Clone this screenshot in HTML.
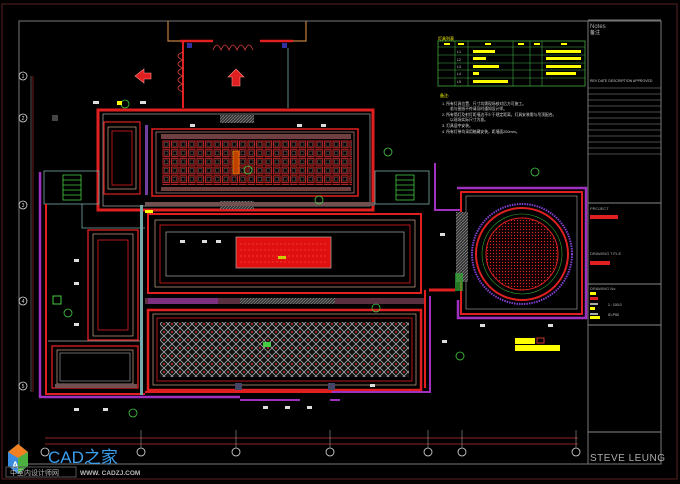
<!DOCTYPE html><html><head><meta charset="utf-8"><style>html,body{margin:0;padding:0;background:#000;}svg{display:block}text{font-family:"Liberation Sans","Noto Sans CJK SC",sans-serif}</style></head><body>
<svg width="680" height="484" viewBox="0 0 680 484" xmlns="http://www.w3.org/2000/svg">
<defs>
<pattern id="grid" x="162" y="140" width="8.5" height="8.7" patternUnits="userSpaceOnUse"><rect width="8.5" height="8.7" fill="#200000"/><rect x="1" y="1" width="6.5" height="6.7" fill="none" stroke="#d03030" stroke-width="0.8"/><rect x="2.5" y="2.5" width="3.5" height="3.7" fill="#000" stroke="#888" stroke-width="0.4"/></pattern>
<pattern id="lat" x="0" y="0" width="8" height="8" patternUnits="userSpaceOnUse"><rect width="8" height="8" fill="#111"/><path d="M0 4L4 0L8 4L4 8Z" fill="none" stroke="#aaa" stroke-width="0.8"/><circle cx="4" cy="4" r="1" fill="#c03030"/></pattern>
<pattern id="dots" width="3" height="3" patternUnits="userSpaceOnUse"><rect width="3" height="3" fill="#100"/><circle cx="1.5" cy="1.5" r="0.6" fill="#e02020"/></pattern>
<pattern id="hatch" width="3" height="3" patternUnits="userSpaceOnUse"><rect width="3" height="3" fill="#333"/><path d="M0 3L3 0" stroke="#999" stroke-width="0.6"/></pattern>
</defs>
<rect width="680" height="484" fill="#000"/>
<rect x="2" y="4" width="675" height="475" fill="none" stroke="#5a2020" stroke-width="1"/>
<rect x="19" y="21" width="569" height="443" fill="none" stroke="#777" stroke-width="1"/>
<rect x="588" y="21" width="73" height="443" fill="none" stroke="#777"/>
<line x1="588" y1="20" x2="661" y2="20" stroke="#777"/>
<text x="590" y="28" fill="#aaa" font-size="6">Notes</text><text x="590" y="34" fill="#ccc" font-size="5">备注</text>
<text x="590" y="82" fill="#ccc" font-size="3.5">REV  DATE      DESCRIPTION  APPROVED</text>
<g stroke="#999" stroke-width="0.6"><line x1="588" y1="88" x2="661" y2="88"/><line x1="588" y1="94" x2="661" y2="94"/><line x1="588" y1="100" x2="661" y2="100"/><line x1="588" y1="106" x2="661" y2="106"/><line x1="588" y1="112" x2="661" y2="112"/><line x1="588" y1="118" x2="661" y2="118"/><line x1="588" y1="124" x2="661" y2="124"/><line x1="588" y1="130" x2="661" y2="130"/><line x1="588" y1="136" x2="661" y2="136"/><line x1="588" y1="142" x2="661" y2="142"/><line x1="588" y1="148" x2="661" y2="148"/><line x1="588" y1="154" x2="661" y2="154"/></g>
<line x1="588" y1="203" x2="661" y2="203" stroke="#888"/>
<text x="590" y="210" fill="#aaa" font-size="4">PROJECT</text><rect x="590" y="215" width="28" height="4" fill="#e02020"/>
<text x="590" y="255" fill="#aaa" font-size="4">DRAWING TITLE</text><rect x="590" y="261" width="20" height="4" fill="#e02020"/>
<line x1="588" y1="284" x2="661" y2="284" stroke="#888"/>
<text x="590" y="290" fill="#aaa" font-size="4">DRAWING No.</text><rect x="590" y="292" width="6" height="3" fill="#ff0"/><rect x="590" y="297" width="8" height="3" fill="#e02020"/>
<rect x="590" y="303" width="8" height="2" fill="#aaa"/><text x="608" y="306" fill="#ccc" font-size="3.5">1 : 100.0</text><rect x="590" y="307" width="5" height="3" fill="#ff0"/>
<rect x="590" y="313" width="8" height="2" fill="#aaa"/><rect x="590" y="316" width="10" height="3" fill="#ff0"/><text x="608" y="316" fill="#ccc" font-size="3.5">ID-P50</text>
<line x1="588" y1="325" x2="661" y2="325" stroke="#888"/>
<line x1="588" y1="432" x2="661" y2="432" stroke="#888"/>
<text x="590" y="461" fill="#aaa" font-size="10" letter-spacing="0.5">STEVE LEUNG</text>

<line x1="31" y1="76" x2="31" y2="392" stroke="#888" stroke-width="0.6"/>
<line x1="33" y1="76" x2="33" y2="392" stroke="#c03030" stroke-width="0.6"/>
<g fill="none" stroke="#ddd" stroke-width="0.8"><circle cx="23" cy="76" r="4"/><circle cx="23" cy="118" r="4"/><circle cx="23" cy="205" r="4"/><circle cx="23" cy="301" r="4"/><circle cx="23" cy="386" r="4"/></g>
<g fill="#ddd" font-size="5" text-anchor="middle"><text x="23" y="78">1</text><text x="23" y="120">2</text><text x="23" y="207">3</text><text x="23" y="303">4</text><text x="23" y="388">5</text></g>
<line x1="45" y1="438" x2="578" y2="438" stroke="#c03030" stroke-width="0.7"/>
<line x1="45" y1="444" x2="578" y2="444" stroke="#c03030" stroke-width="0.7"/>
<g fill="none" stroke="#ddd" stroke-width="0.8"><circle cx="45" cy="452" r="4"/><circle cx="141" cy="452" r="4"/><circle cx="236" cy="452" r="4"/><circle cx="330" cy="452" r="4"/><circle cx="428" cy="452" r="4"/><circle cx="462" cy="452" r="4"/><circle cx="576" cy="452" r="4"/></g>
<g stroke="#bbb" stroke-width="0.5"><line x1="141" y1="430" x2="141" y2="448"/><line x1="236" y1="430" x2="236" y2="448"/><line x1="330" y1="430" x2="330" y2="448"/><line x1="428" y1="430" x2="428" y2="448"/><line x1="462" y1="430" x2="462" y2="448"/><line x1="576" y1="430" x2="576" y2="448"/></g>

<path d="M168 21V41H180M293 41H306V21" fill="none" stroke="#c08040" stroke-width="1.2"/>
<path d="M180 41H213M260 41H293" stroke="#e02020" stroke-width="2.5"/>
<path d="M213 50q4-10 8 0q4-10 8 0q4-10 8 0q4-10 8 0q4-10 8 0" fill="none" stroke="#e04040" stroke-width="0.8"/>
<path d="M183 41V108" stroke="#e02020" stroke-width="2"/>
<path d="M183 52q-10 4 0 8q-10 4 0 8q-10 4 0 8q-10 4 0 8q-10 4 0 8" fill="none" stroke="#e04040" stroke-width="0.8"/>
<rect x="187" y="43" width="5" height="5" fill="#3030a0"/><rect x="282" y="43" width="5" height="5" fill="#3030a0"/>
<line x1="288" y1="48" x2="288" y2="108" stroke="#7aa" stroke-width="0.8"/>
<path d="M135 76l9-7v4h7v6h-7v4z" fill="#e02020" stroke="#f88" stroke-width="0.6"/>
<path d="M236 69l8 8h-4v9h-8v-9h-4z" fill="#e02020" stroke="#f88" stroke-width="0.6"/>
<rect x="52" y="115" width="6" height="6" fill="#444"/>

<rect x="98" y="110" width="275" height="100" fill="none" stroke="#e02020" stroke-width="3"/>
<rect x="103" y="114" width="267" height="92" fill="none" stroke="#aaa" stroke-width="0.7"/>
<rect x="220" y="115" width="34" height="8" fill="url(#hatch)"/><rect x="220" y="201" width="34" height="8" fill="url(#hatch)"/>
<rect x="152" y="129" width="206" height="67" fill="none" stroke="#e02020" stroke-width="1.5"/>
<rect x="156" y="132" width="198" height="61" fill="none" stroke="#f0a0a0" stroke-width="0.6"/>
<rect x="161" y="134" width="190" height="5" fill="#704040"/><rect x="161" y="187" width="190" height="4" fill="#704040"/>
<rect x="162" y="140" width="190" height="45" fill="url(#grid)"/>
<rect x="233" y="151" width="6" height="23" fill="#c04000" stroke="#fa0" stroke-width="0.5"/>
<rect x="145" y="202" width="230" height="4" fill="#705050"/>
<rect x="104" y="122" width="36" height="72" fill="none" stroke="#e02020" stroke-width="1.2"/>
<rect x="108" y="127" width="28" height="62" fill="none" stroke="#f0c0a0" stroke-width="0.6"/>
<rect x="112" y="131" width="20" height="54" fill="none" stroke="#e02020" stroke-width="0.8"/>
<rect x="145" y="125" width="3" height="70" fill="#7040a0"/>
<rect x="44" y="171" width="55" height="33" fill="none" stroke="#7aa" stroke-width="0.8"/>
<rect x="63" y="175" width="18" height="25" fill="none" stroke="#4c4" stroke-width="0.8"/>
<path d="M63 180h18M63 185h18M63 190h18M63 195h18" stroke="#4c4" stroke-width="0.8"/>
<rect x="375" y="171" width="54" height="33" fill="none" stroke="#7aa" stroke-width="0.8"/>
<rect x="396" y="175" width="18" height="25" fill="none" stroke="#4c4" stroke-width="0.8"/>
<path d="M396 180h18M396 185h18M396 190h18M396 195h18" stroke="#4c4" stroke-width="0.8"/>
<path d="M435 163V210H460" fill="none" stroke="#a030c0" stroke-width="2"/>
<path d="M40 172V397H240" fill="none" stroke="#a030c0" stroke-width="2.5"/>
<path d="M46 204V394H145" fill="none" stroke="#e02020" stroke-width="2"/>
<path d="M82 204V228H145" fill="none" stroke="#7aa" stroke-width="0.8"/>
<rect x="88" y="230" width="50" height="110" fill="none" stroke="#e02020" stroke-width="1.3"/>
<rect x="93" y="234" width="40" height="102" fill="none" stroke="#f0c0a0" stroke-width="0.6"/>
<rect x="98" y="240" width="30" height="90" fill="none" stroke="#e02020" stroke-width="0.8"/>
<rect x="52" y="346" width="86" height="42" fill="none" stroke="#e02020" stroke-width="1.3"/>
<rect x="57" y="350" width="76" height="34" fill="none" stroke="#f0c0a0" stroke-width="0.6"/>
<rect x="60" y="353" width="70" height="28" fill="none" stroke="#aaa" stroke-width="0.6"/>
<line x1="48" y1="341" x2="140" y2="341" stroke="#aaa" stroke-width="0.8"/>
<rect x="55" y="384" width="82" height="4" fill="#705050"/>
<rect x="140" y="205" width="3" height="190" fill="#7aa"/>
<rect x="53" y="296" width="8" height="8" fill="none" stroke="#4c4"/>
<rect x="148" y="214" width="273" height="79" fill="none" stroke="#e02020" stroke-width="2"/>
<rect x="155" y="220" width="260" height="67" fill="none" stroke="#f0c0a0" stroke-width="0.6"/>
<rect x="160" y="225" width="250" height="58" fill="none" stroke="#e02020" stroke-width="0.8"/>
<rect x="166" y="232" width="238" height="44" fill="none" stroke="#aaa" stroke-width="0.7"/>
<rect x="236" y="237" width="95" height="31" fill="#e01010" stroke="#aaa" stroke-width="0.7"/>
<path d="M240 244h87M240 250h87M240 256h87M240 262h87" stroke="#ff6060" stroke-width="0.5" stroke-dasharray="2 2"/>
<rect x="278" y="256" width="8" height="3" fill="#cc0" />
<rect x="145" y="298" width="280" height="6" fill="#5a3040"/>
<rect x="240" y="298" width="95" height="6" fill="url(#hatch)"/>
<rect x="148" y="298" width="70" height="6" fill="#a030c0" opacity="0.5"/>
<rect x="148" y="310" width="273" height="80" fill="none" stroke="#e02020" stroke-width="2.5"/>
<rect x="153" y="314" width="263" height="71" fill="none" stroke="#f0c0a0" stroke-width="0.6"/>
<rect x="157" y="318" width="255" height="63" fill="none" stroke="#e02020" stroke-width="0.8"/>
<rect x="160" y="322" width="249" height="55" fill="url(#lat)"/>
<rect x="263" y="342" width="8" height="5" fill="#4c4"/>
<path d="M145 392H420" stroke="#e02020" stroke-width="2"/>
<path d="M240 400H300M330 400H340" stroke="#a030c0" stroke-width="2"/>
<path d="M430 296V392H332" fill="none" stroke="#a030c0" stroke-width="2"/>
<path d="M425 290V388" stroke="#e02020" stroke-width="2"/>
<rect x="235" y="383" width="7" height="7" fill="#446"/><rect x="328" y="383" width="7" height="7" fill="#446"/>
<path d="M457 188H586V318H458V300" fill="none" stroke="#a030c0" stroke-width="2.5"/>
<rect x="461" y="192" width="121" height="122" fill="none" stroke="#e02020" stroke-width="2"/>
<rect x="466" y="196" width="111" height="113" fill="none" stroke="#aaa" stroke-width="0.6"/>
<circle cx="522" cy="254" r="50" fill="none" stroke="#8040d0" stroke-width="2" stroke-dasharray="1.5 1"/>
<circle cx="522" cy="254" r="46" fill="none" stroke="#e02020" stroke-width="2"/>
<circle cx="522" cy="254" r="40" fill="none" stroke="#3a3" stroke-width="0.6"/>
<circle cx="522" cy="254" r="36" fill="url(#dots)" stroke="#e02020" stroke-width="1"/>
<rect x="456" y="212" width="12" height="70" fill="url(#hatch)"/>
<rect x="455" y="273" width="8" height="18" fill="#3a3" opacity="0.7"/>
<path d="M429 290H455" stroke="#e02020" stroke-width="3"/>
<text x="438" y="40" fill="#ff0" font-size="4">灯具列表</text>
<rect x="438" y="41" width="147" height="45" fill="none" stroke="#4a4" stroke-width="0.8"/>
<g stroke="#4a4" stroke-width="0.6"><line x1="438" y1="47" x2="585" y2="47"/><line x1="438" y1="55" x2="585" y2="55"/><line x1="438" y1="63" x2="585" y2="63"/><line x1="438" y1="70" x2="585" y2="70"/><line x1="438" y1="78" x2="585" y2="78"/><line x1="455" y1="41" x2="455" y2="86"/><line x1="468" y1="41" x2="468" y2="86"/><line x1="513" y1="41" x2="513" y2="86"/><line x1="530" y1="41" x2="530" y2="86"/><line x1="542" y1="41" x2="542" y2="86"/></g>
<g fill="#ff0"><rect x="444" y="43" width="6" height="2"/><rect x="458" y="43" width="6" height="2"/><rect x="485" y="43" width="6" height="2"/><rect x="518" y="43" width="6" height="2"/><rect x="534" y="43" width="6" height="2"/><rect x="561" y="43" width="6" height="2"/>
<rect x="473" y="50" width="22" height="3"/><rect x="546" y="50" width="35" height="3"/><rect x="473" y="57" width="13" height="3"/><rect x="546" y="57" width="35" height="3"/><rect x="473" y="65" width="26" height="3"/><rect x="546" y="65" width="35" height="3"/><rect x="473" y="72" width="6" height="3"/><rect x="546" y="72" width="30" height="3"/><rect x="473" y="80" width="35" height="3"/></g>
<g fill="#ccc" font-size="3.5"><text x="457" y="53">L1</text><text x="457" y="61">L2</text><text x="457" y="68">L3</text><text x="457" y="75">L4</text><text x="457" y="83">L5</text></g>
<text x="440" y="97" fill="#ff0" font-size="4">备注:</text>
<g fill="#ddd" font-size="3.8"><text x="442" y="105">1.  所有灯具位置、尺寸均需现场核对后方可施工。</text><text x="450" y="110">若与图纸不符请及时通知设计师。</text><text x="442" y="116">2.  所有筒灯及射灯距墙边不少于规定距离，灯具安装需与吊顶配合。</text><text x="450" y="121">以现场实际尺寸为准。</text><text x="442" y="127">3.  灯具居中安装。</text><text x="442" y="133">4.  所有灯带均采用暗藏安装，距墙面200mm。</text></g>
<g fill="none" stroke="#4c4" stroke-width="0.8"><circle cx="125" cy="104" r="4"/><circle cx="248" cy="170" r="4"/><circle cx="388" cy="152" r="4"/><circle cx="319" cy="200" r="4"/><circle cx="535" cy="172" r="4"/><circle cx="68" cy="313" r="4"/><circle cx="133" cy="413" r="4"/><circle cx="460" cy="356" r="4"/><circle cx="376" cy="308" r="4"/></g>
<g fill="#ddd"><rect x="93" y="101" width="6" height="3"/><rect x="140" y="101" width="6" height="3"/><rect x="190" y="124" width="5" height="3"/><rect x="297" y="124" width="5" height="3"/><rect x="321" y="124" width="5" height="3"/><rect x="180" y="240" width="5" height="3"/><rect x="202" y="240" width="5" height="3"/><rect x="216" y="240" width="5" height="3"/><rect x="74" y="259" width="5" height="3"/><rect x="74" y="282" width="5" height="3"/><rect x="74" y="323" width="5" height="3"/><rect x="74" y="408" width="5" height="3"/><rect x="103" y="408" width="5" height="3"/><rect x="263" y="406" width="5" height="3"/><rect x="285" y="406" width="5" height="3"/><rect x="307" y="406" width="5" height="3"/><rect x="480" y="324" width="5" height="3"/><rect x="548" y="324" width="5" height="3"/><rect x="440" y="233" width="5" height="3"/><rect x="442" y="340" width="5" height="3"/><rect x="370" y="384" width="5" height="3"/></g>
<rect x="515" y="338" width="20" height="6" fill="#ff0"/><rect x="515" y="345" width="45" height="6" fill="#ff0"/>
<rect x="537" y="338" width="7" height="5" fill="none" stroke="#c33"/>
<rect x="145" y="210" width="8" height="3" fill="#ff0"/><rect x="117" y="101" width="5" height="4" fill="#ff0"/>
<g transform="translate(8,444)"><path d="M0 8L10 0L20 8L20 22L10 30L0 22Z" fill="#3b8be0"/><path d="M0 8L10 14L20 8L10 0Z" fill="#f08020"/><path d="M10 14L20 8V22L10 30Z" fill="#4ab040"/><text x="4" y="24" fill="#fff" font-size="9" font-weight="bold">A</text></g>
<text x="48" y="463" fill="#3ba0f0" font-size="17">CAD之家</text>
<rect x="6" y="467" width="70" height="10" fill="none" stroke="#555"/>
<text x="10" y="475" fill="#bbb" font-size="7">中室内设计师网</text>
<text x="80" y="475" fill="#bbb" font-size="6.5" font-weight="bold">WWW. CADZJ.COM</text>
</svg>
</body></html>
